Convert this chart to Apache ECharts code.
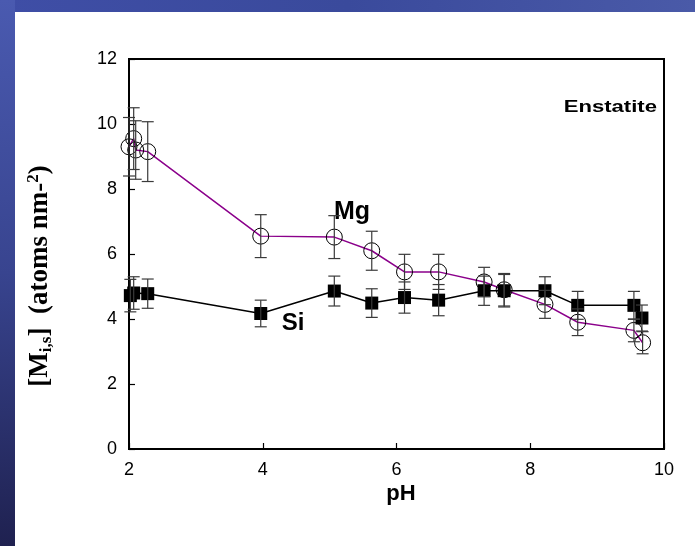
<!DOCTYPE html>
<html>
<head>
<meta charset="utf-8">
<script src="https://cdn.jsdelivr.net/npm/echarts@6/dist/echarts.min.js"></script>
<style>html,body{margin:0;padding:0;background:#fff}#c{width:695px;height:546px}</style>
</head>
<body>
<div id="c"></div>
<script>
// Data
const mgPH  = [2.0, 2.07, 2.1, 2.28, 3.97, 5.07, 5.63, 6.12, 6.63, 7.31, 7.61, 8.22, 8.71, 9.55, 9.68];
const mgVal = [9.3, 9.55, 9.2, 9.15, 6.55, 6.52, 6.1, 5.45, 5.45, 5.14, 4.9, 4.45, 3.9, 3.65, 3.27];
const mgErr = [0.9, 0.95, 0.9, 0.92, 0.66, 0.66, 0.6, 0.54, 0.54, 0.45, 0.5, 0.43, 0.41, 0.35, 0.34];

const siPH  = [2.02, 2.07, 2.28, 3.97, 5.07, 5.63, 6.12, 6.63, 7.31, 7.61, 8.22, 8.71, 9.55, 9.67];
const siVal = [4.72, 4.8, 4.78, 4.17, 4.86, 4.49, 4.66, 4.58, 4.87, 4.87, 4.87, 4.42, 4.42, 4.03];
const siErr = [0.5, 0.5, 0.45, 0.41, 0.46, 0.44, 0.48, 0.48, 0.45, 0.5, 0.43, 0.43, 0.43, 0.4];

const xTicks = [2, 4, 6, 8, 10];
const yTicks = [0, 2, 4, 6, 8, 10, 12];

const zip = (a, b) => a.map((v, i) => [v, b[i]]);
const errData = (x, y, e) => x.map((v, i) => [v, y[i] - e[i], y[i] + e[i]]);

function errRender(params, api) {
  const x = api.value(0);
  const lo = api.coord([x, api.value(1)]);
  const hi = api.coord([x, api.value(2)]);
  const w = 6;
  const st = { stroke: '#3a3a3a', lineWidth: 1.2 };
  return {
    type: 'group',
    children: [
      { type: 'line', shape: { x1: lo[0], y1: lo[1], x2: hi[0], y2: hi[1] }, style: st },
      { type: 'line', shape: { x1: lo[0] - w, y1: lo[1], x2: lo[0] + w, y2: lo[1] }, style: st },
      { type: 'line', shape: { x1: hi[0] - w, y1: hi[1], x2: hi[0] + w, y2: hi[1] }, style: st }
    ]
  };
}

const chart = echarts.init(document.getElementById('c'));
chart.setOption({
  backgroundColor: '#ffffff',
  animation: false,
  grid: { left: 129, right: 31, top: 59, bottom: 97, show: true, borderColor: '#000', borderWidth: 2, backgroundColor: 'transparent' },
  xAxis: {
    type: 'value', min: xTicks[0], max: xTicks[xTicks.length - 1], interval: 2,
    axisLine: { lineStyle: { color: '#000', width: 2 } },
    axisTick: { inside: true, length: 6, lineStyle: { color: '#000', width: 1.2 } },
    axisLabel: { color: '#000', fontSize: 18, fontFamily: 'Liberation Sans, Arial', margin: 12 },
    splitLine: { show: false }
  },
  yAxis: {
    type: 'value', min: yTicks[0], max: yTicks[yTicks.length - 1], interval: 2,
    axisLine: { lineStyle: { color: '#000', width: 2 } },
    axisTick: { inside: true, length: 6, lineStyle: { color: '#000', width: 1.2 } },
    axisLabel: { color: '#000', fontSize: 18, fontFamily: 'Liberation Sans, Arial', margin: 12 },
    splitLine: { show: false }
  },
  graphic: [
    { type: 'rect', shape: { x: 0, y: 0, width: 695, height: 12 }, silent: true,
      style: { fill: new echarts.graphic.LinearGradient(0, 0, 1, 0, [{ offset: 0, color: '#3f4ea6' }, { offset: 0.5, color: '#3a4a9c' }, { offset: 1, color: '#4a5aa8' }]) } },
    { type: 'rect', shape: { x: 0, y: 0, width: 15, height: 546 }, silent: true,
      style: { fill: new echarts.graphic.LinearGradient(0, 0, 0, 1, [{ offset: 0, color: '#4a5ab0' }, { offset: 0.5, color: '#38448f' }, { offset: 1, color: '#1f2150' }]) } },
    { type: 'text', x: 40, y: 276, rotation: Math.PI / 2, silent: true,
      style: {
        text: '[M{sub|i,s}]  (atoms nm-{sup|2})',
        fill: '#000', font: 'bold 27px "Liberation Serif", "Times New Roman", serif',
        textAlign: 'center', textVerticalAlign: 'middle',
        rich: {
          sub: { fontSize: 17, fontWeight: 'bold', fontFamily: 'Liberation Serif', verticalAlign: 'bottom', padding: [13, 0, 0, 0] },
          sup: { fontSize: 17, fontWeight: 'bold', fontFamily: 'Liberation Serif', verticalAlign: 'top', padding: [0, 0, 13, 0] }
        }
      } },
    { type: 'text', x: 401, y: 494, silent: true,
      style: { text: 'pH', fill: '#000', font: 'bold 22px "Liberation Sans", Arial', textAlign: 'center', textVerticalAlign: 'middle' } },
    { type: 'text', x: 657, y: 107, scaleX: 1.3, silent: true,
      style: { text: 'Enstatite', fill: '#000', font: 'bold 17px "Liberation Sans", Arial', textAlign: 'right', textVerticalAlign: 'middle' } },
    { type: 'text', x: 352, y: 212, silent: true,
      style: { text: 'Mg', fill: '#000', font: 'bold 25px "Liberation Sans", Arial', textAlign: 'center', textVerticalAlign: 'middle' } },
    { type: 'text', x: 293, y: 323, silent: true,
      style: { text: 'Si', fill: '#000', font: 'bold 24px "Liberation Sans", Arial', textAlign: 'center', textVerticalAlign: 'middle' } }
  ],
  series: [
    { type: 'line', name: 'Mg', data: zip(mgPH, mgVal), z: 3,
      symbol: 'circle', symbolSize: 16,
      lineStyle: { color: '#8b008b', width: 1.5 },
      itemStyle: { color: 'rgba(0,0,0,0)', borderColor: '#000', borderWidth: 1 } },
    { type: 'line', name: 'Si', data: zip(siPH, siVal), z: 3,
      symbol: 'rect', symbolSize: 13,
      lineStyle: { color: '#000', width: 1.5 },
      itemStyle: { color: '#000' } },
    { type: 'custom', name: 'MgErr', data: errData(mgPH, mgVal, mgErr), renderItem: errRender, z: 4 },
    { type: 'custom', name: 'SiErr', data: errData(siPH, siVal, siErr), renderItem: errRender, z: 4 }
  ]
});
</script>
</body>
</html>
